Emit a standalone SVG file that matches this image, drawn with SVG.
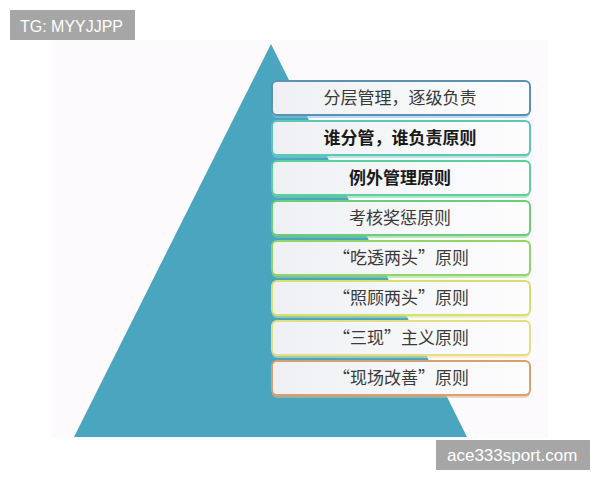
<svg xmlns="http://www.w3.org/2000/svg" width="600" height="480" viewBox="0 0 600 480">
<defs>
<linearGradient id="bf" x1="0" y1="0" x2="1" y2="0">
<stop offset="0" stop-color="#eef0f3"/>
<stop offset="1" stop-color="#fdfdfe"/>
</linearGradient>
</defs>
<style>
.box{fill:url(#bf);stroke-width:2}
.sh{opacity:0.55}
.t{font-family:"Noto Sans CJK SC","Noto Sans",sans-serif;font-size:17px;fill:#3a3a3a;text-anchor:middle}
.b{font-weight:bold;fill:#1a1a1a}
.wm{fill:#a6a6a6}
.wt{font-family:"Liberation Sans",Arial,sans-serif;fill:#ffffff}
</style>
<rect x="0" y="0" width="600" height="480" fill="#ffffff"/>
<rect x="51" y="40" width="497" height="398" fill="#fcfafd"/>
<polygon id="pyramid" points="271,44 74,437 467,437" fill="#4aa6bf"/>
<g id="n1"><rect class="sh" x="272" y="84" width="258" height="34" rx="5" fill="#7fc7dc"/><rect class="box" x="272" y="81" width="258" height="34" rx="5" stroke="#5d91b3"/><text class="t" x="400" y="104">分层管理，逐级负责</text></g>
<g id="n2"><rect class="sh" x="272" y="124" width="258" height="34" rx="5" fill="#74d6c6"/><rect class="box" x="272" y="121" width="258" height="34" rx="5" stroke="#5fc6b6"/><text class="t b" x="400" y="144">谁分管，谁负责原则</text></g>
<g id="n3"><rect class="sh" x="272" y="164" width="258" height="34" rx="5" fill="#72d6a6"/><rect class="box" x="272" y="161" width="258" height="34" rx="5" stroke="#5ccf9c"/><text class="t b" x="400" y="184">例外管理原则</text></g>
<g id="n4"><rect class="sh" x="272" y="204" width="258" height="34" rx="5" fill="#7ed48a"/><rect class="box" x="272" y="201" width="258" height="34" rx="5" stroke="#6ccc7a"/><text class="t" x="400" y="224">考核奖惩原则</text></g>
<g id="n5"><rect class="sh" x="272" y="244" width="258" height="34" rx="5" fill="#a2db80"/><rect class="box" x="272" y="241" width="258" height="34" rx="5" stroke="#8fd56c"/><text class="t" x="401" y="264">“吃透两头”原则</text></g>
<g id="n6"><rect class="sh" x="272" y="284" width="258" height="34" rx="5" fill="#dbe68a"/><rect class="box" x="272" y="281" width="258" height="34" rx="5" stroke="#d5e070"/><text class="t" x="401" y="304">“照顾两头”原则</text></g>
<g id="n7"><rect class="sh" x="272" y="324" width="258" height="34" rx="5" fill="#ece59c"/><rect class="box" x="272" y="321" width="258" height="34" rx="5" stroke="#e4dd88"/><text class="t" x="401" y="344">“三现”主义原则</text></g>
<g id="n8"><rect class="sh" x="272" y="364" width="258" height="34" rx="5" fill="#e2b286"/><rect class="box" x="272" y="361" width="258" height="34" rx="5" stroke="#d8a070"/><text class="t" x="401" y="384">“现场改善”原则</text></g>
<g id="connectors"></g>
<g id="wm1"><rect class="wm" x="10" y="10" width="125" height="30"/><text class="wt" x="20" y="32" font-size="17" textLength="103" lengthAdjust="spacingAndGlyphs">TG: MYYJJPP</text></g>
<g id="wm2"><rect class="wm" x="436" y="440" width="154" height="30"/><text class="wt" x="447" y="461" font-size="17">ace333sport.com</text></g>
</svg>
